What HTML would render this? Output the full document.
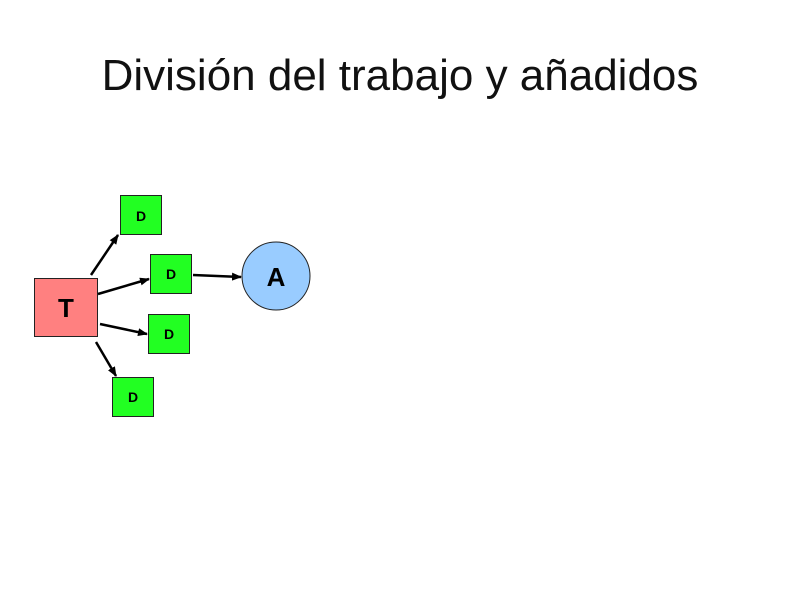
<!DOCTYPE html>
<html><head><style>
body{margin:0;width:800px;height:600px;background:#fff;overflow:hidden;font-family:"Liberation Sans",sans-serif}
.t{position:absolute;left:0;width:800px;top:51px;text-align:center;font-size:44px;color:#111}
</style></head><body>
<div class="t">División del trabajo y añadidos</div>
<svg width="800" height="600" style="position:absolute;left:0;top:0">
<defs><marker id="a" markerWidth="10" markerHeight="8" refX="9" refY="4" orient="auto" markerUnits="userSpaceOnUse"><path d="M0,0L10,4L0,8z" fill="#000"/></marker></defs>
<g font-family="Liberation Sans" font-weight="bold" text-anchor="middle">
<rect x="34.5" y="278.5" width="63" height="58" fill="#ff8080" stroke="#222"/>
<text x="66" y="317" font-size="26">T</text>
<rect x="120.5" y="195.5" width="41" height="39" fill="#22ff22" stroke="#222"/>
<text x="141" y="221" font-size="14">D</text>
<rect x="150.5" y="254.5" width="41" height="39" fill="#22ff22" stroke="#222"/>
<text x="171" y="279" font-size="14">D</text>
<rect x="148.5" y="314.5" width="41" height="39" fill="#22ff22" stroke="#222"/>
<text x="169" y="339" font-size="14">D</text>
<rect x="112.5" y="377.5" width="41" height="39" fill="#22ff22" stroke="#222"/>
<text x="133" y="402" font-size="14">D</text>
<circle cx="276" cy="276" r="34" fill="#99ccff" stroke="#222"/>
<text x="276" y="286" font-size="26">A</text>
</g>
<g stroke="#000" stroke-width="2.5" marker-end="url(#a)">
<line x1="91" y1="275" x2="118" y2="235"/>
<line x1="98" y1="294" x2="149" y2="279"/>
<line x1="100" y1="324" x2="147" y2="334"/>
<line x1="96" y1="342" x2="116" y2="376"/>
<line x1="193" y1="275" x2="241" y2="277"/>
</g>
</svg>
</body></html>
